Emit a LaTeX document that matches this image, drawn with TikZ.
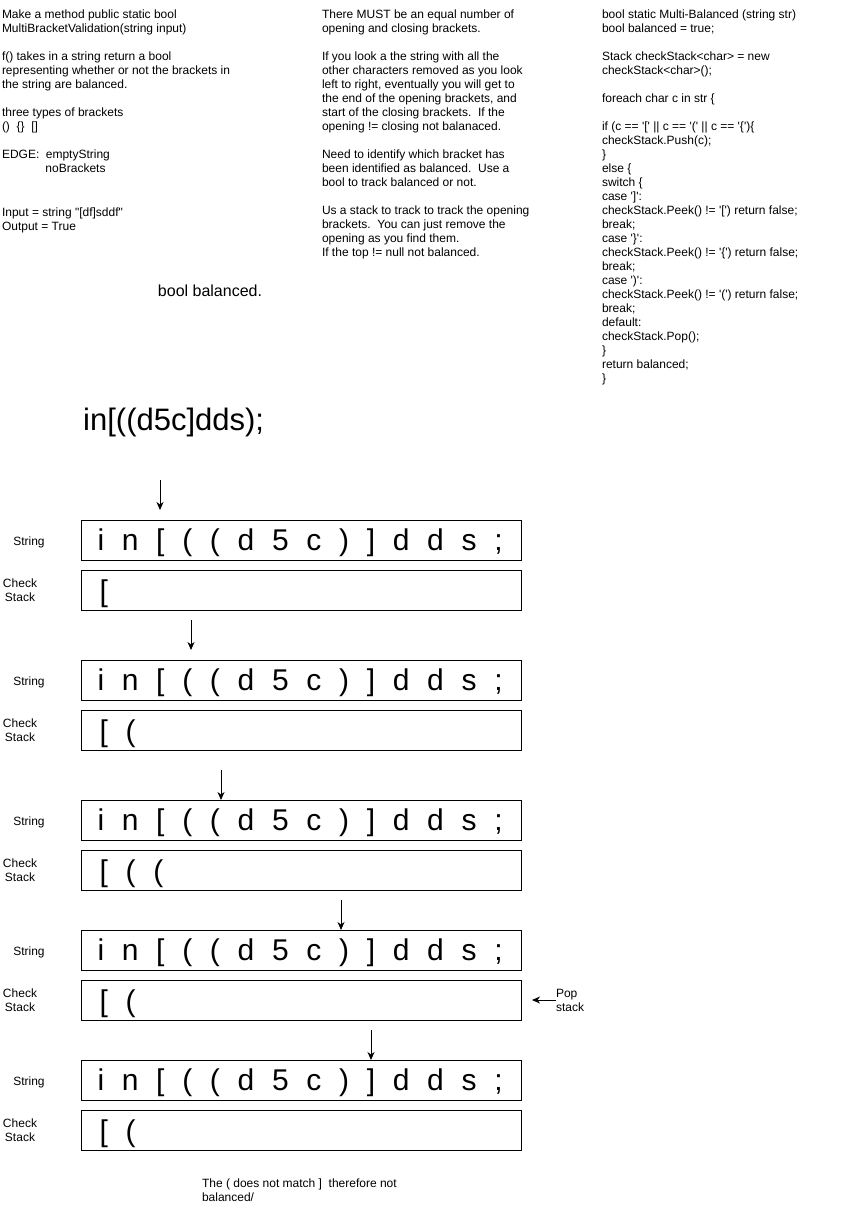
\documentclass[tikz,border=0pt]{standalone}
\usepackage{fontspec}
\setmainfont{Liberation Sans}
\setmonofont{Liberation Sans}
\usetikzlibrary{arrows.meta}
\begin{document}
\begin{tikzpicture}[x=1pt,y=-1pt,
  lbl/.style={font={\ttfamily\fontsize{12}{14}\selectfont}, inner sep=0pt, outer sep=0pt},
  note/.style={lbl, anchor=north west, align=left},
  cell/.style={draw, line width=1pt, minimum width=440pt, minimum height=40pt, inner sep=0pt, anchor=north west},
  seq/.style={font={\ttfamily\fontsize{30}{36}\selectfont\spaceskip=17.7pt\relax}, inner sep=0pt, anchor=base west},
  arr/.style={-{Stealth[length=8pt,width=7pt,inset=2.5pt]}, line width=1pt}
]
\useasboundingbox (0,0) rectangle (841,1205);

% ---- top-left notes
\node[note] (spec) at (2,10) {Make a method public static bool\\
MultiBracketValidation(string input)\\
\mbox{}\\
f() takes in a string return a bool\\
representing whether or not the brackets in\\
the string are balanced.\\
\mbox{}\\
three types of brackets\\
() \ \{\} \ []\\
\mbox{}\\
EDGE:\hspace{6.5pt}emptyString\\
\hspace*{43.5pt}noBrackets};

\node[note] (io) at (2,207.5) {Input = string "[df]sddf"\\Output = True};

% ---- middle notes
\node[note] (idea) at (322,10) {There MUST be an equal number of\\
opening and closing brackets.\\
\mbox{}\\
If you look a the string with all the\\
other characters removed as you look\\
left to right, eventually you will get to\\
the end of the opening brackets, and\\
start of the closing brackets. \ If the\\
opening != closing not balanaced.\\
\mbox{}\\
Need to identify which bracket has\\
been identified as balanced. \ Use a\\
bool to track balanced or not.\\
\mbox{}\\
Us a stack to track to track the opening\\
brackets. \ You can just remove the\\
opening as you find them.\\
If the top != null not balanced.};

% ---- right code
\node[note] (code) at (602,10) {bool static Multi-Balanced (string str)\\
bool balanced = true;\\
\mbox{}\\
Stack checkStack<char> = new\\
checkStack<char>();\\
\mbox{}\\
foreach char c in str \{\\
\mbox{}\\
if (c == '[' || c == '(' || c == '\{')\{\\
checkStack.Push(c);\\
\}\\
else \{\\
switch \{\\
case ']':\\
checkStack.Peek() != '[') return false;\\
break;\\
case '\}':\\
checkStack.Peek() != '\{') return false;\\
break;\\
case ')':\\
checkStack.Peek() != '(') return false;\\
break;\\
default:\\
checkStack.Pop();\\
\}\\
return balanced;\\
\}};

\node[inner sep=0pt, anchor=base, font={\ttfamily\fontsize{16}{19}\selectfont}] (bb) at (210,296.5) {bool balanced.};

\node[inner sep=0pt, anchor=base west, font={\ttfamily\fontsize{31}{37}\selectfont}] (input) at (83,430.5) {in[((d5c]dds);};

% ---- trace rows
\foreach \i/\T/\ax/\ay/\az/\stk in {1/520/160/480/510/{[},2/660/191/620/650/{[ (},3/800/221/770/800/{[ ( (},4/930/341/900/930/{[ (},5/1060/371/1030/1060/{[ (}}{
  \node[cell] (str\i) at (80.5,\T) {};
  \node[cell] (chk\i) at (80.5,\T+50) {};
  \node[seq] (s\i) at (97.3,\T+30.5) {i n [ ( ( d 5 c ) ] d d s ;};
  \node[seq] (k\i) at (99.5,\T+81) {\stk};
  \node[lbl, anchor=base] (ls\i) at (29,\T+25) {String};
  \node[lbl, align=center] (lc\i) at (20,\T+70.5) {Check\\Stack};
  \coordinate (a\i) at (\ax,\ay);
  \coordinate (b\i) at (\ax,\az);
  \draw[arr] (a\i) -- (b\i);
}

% ---- pop note
\node[lbl, anchor=west, align=left] (pop) at (556,1000.5) {Pop\\stack};
\coordinate (poptip) at (532,1000);
\draw[arr] (pop.west |- poptip) -- (poptip);

% ---- conclusion
\node[note] (concl) at (202,1179) {The ( does not match ] \ therefore not\\balanced/};
\end{tikzpicture}
\end{document}
